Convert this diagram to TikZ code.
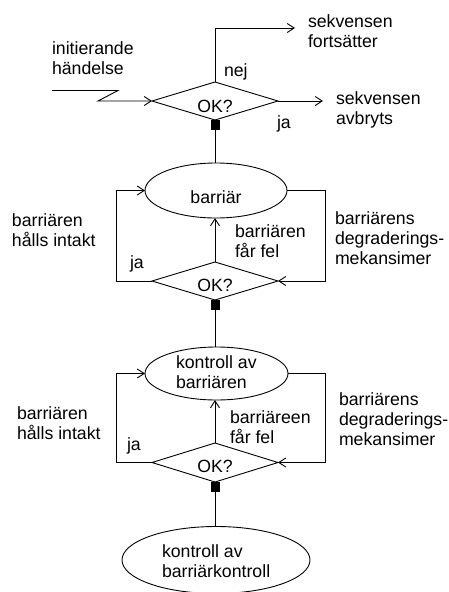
\documentclass[tikz,border=0pt]{standalone}
\usepackage{fontspec}
\setmainfont{Liberation Sans}
\usetikzlibrary{shapes.geometric,arrows.meta}
\begin{document}
\begin{tikzpicture}[x=1pt,y=-1pt,
  every node/.style={inner sep=0pt,outer sep=0pt},
  % multi-line labels are placed by the baseline of their last line
  lbl/.style={font=\fontsize{17.7}{20}\selectfont,align=left,anchor=base west},
  ctr/.style={font=\fontsize{17.7}{20}\selectfont,anchor=base},
  ok/.style={diamond,draw,line width=0.9pt,minimum width=126pt,minimum height=38pt},
  oval/.style={ellipse,draw,line width=0.9pt},
  blk/.style={fill=black,minimum width=9pt,minimum height=10pt,anchor=north},
  wire/.style={line width=0.9pt},
  arr/.style={wire,-{Straight Barb[length=7pt,width=9pt]}}]
\useasboundingbox (0,0) rectangle (449,592);

% --- first decision ---
\node[ok] (d1) at (215,101) {};
\node[ctr] (d1t) at (215,112) {OK?};
\node[blk] (s1) at (d1.south) {};
\coordinate (in0) at (52,90.5);
\coordinate (in1) at (118,90.5);
\coordinate (in2) at (98,101);
\coordinate (up) at (215,28);
\coordinate (cont) at (295,28);
\coordinate (stop) at (323,101);
\draw[arr] (in0) -- (in1) -- (in2) -- (d1.west);
\draw[arr] (d1.north) -- (up) -- (cont);
\draw[arr] (d1.east) -- (stop);
\node[lbl] (t1) at (52,74) {initierande\\händelse};
\node[lbl] (t2) at (308,47) {sekvensen\\fortsätter};
\node[lbl] (t3) at (224,76) {nej};
\node[lbl] (t4) at (336,124) {sekvensen\\avbryts};
\node[lbl] (t5) at (277,128) {ja};

% --- barrier loop ---
\node[oval,minimum width=142pt,minimum height=55pt] (e1) at (216,190.5) {};
\node[ctr] (e1t) at (216,203) {barriär};
\node[ok] (d2) at (215,281) {};
\node[ctr] (d2t) at (215,291) {OK?};
\node[blk] (s2) at (d2.south) {};
\draw[wire] (s1.south) -- (s1.south |- e1.north);
\draw[arr] (d2.north) -- (d2.north |- e1.south);
\coordinate (l2a) at (116,281);
\coordinate (l2b) at (116,190.5);
\coordinate (r2a) at (325,190.5);
\coordinate (r2b) at (325,281);
\draw[arr] (d2.west) -- (l2a) -- (l2b) -- (e1.west);
\draw[arr] (e1.east) -- (r2a) -- (r2b) -- (d2.east);
\node[lbl] (t6) at (12,246) {barriären\\hålls intakt};
\node[lbl] (t7) at (130,268) {ja};
\node[lbl] (t8) at (235,257) {barriären\\får fel};
\node[lbl] (t9) at (335,264) {barriärens\\degraderings-\\mekansimer};

% --- control loop ---
\node[oval,minimum width=143pt,minimum height=53pt] (e2) at (216.5,373.5) {};
\node[lbl] (e2t) at (176,388) {kontroll av\\barriären};
\node[ok,minimum height=39pt] (d3) at (215,462.5) {};
\node[ctr] (d3t) at (215,472) {OK?};
\node[blk] (s3) at (d3.south) {};
\draw[wire] (s2.south) -- (s2.south |- e2.north);
\draw[arr] (d3.north) -- (d3.north |- e2.south);
\coordinate (l3a) at (116,462.5);
\coordinate (l3b) at (116,373.5);
\coordinate (r3a) at (325,373.5);
\coordinate (r3b) at (325,462.5);
\draw[arr] (d3.west) -- (l3a) -- (l3b) -- (e2.west);
\draw[arr] (e2.east) -- (r3a) -- (r3b) -- (d3.east);
\node[lbl] (t10) at (17,439) {barriären\\hålls intakt};
\node[lbl] (t11) at (127,450) {ja};
\node[lbl] (t12) at (230,443) {barriäreen\\får fel};
\node[lbl] (t13) at (339,445) {barriärens\\degraderings-\\mekansimer};

% --- control of the control ---
\node[oval,minimum width=188pt,minimum height=67pt] (e3) at (216,560) {};
\node[lbl] (e3t) at (162,577) {kontroll av\\barriärkontroll};
\draw[wire] (e3.north) -- (e3.north -| s3.south) -- (s3.south);
\end{tikzpicture}
\end{document}
